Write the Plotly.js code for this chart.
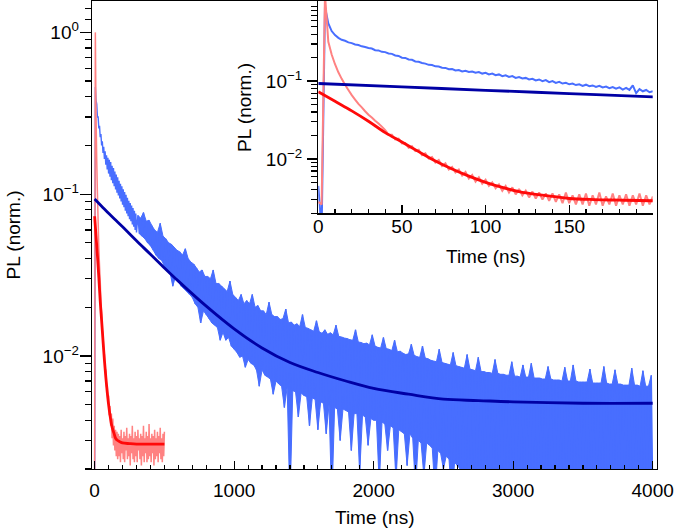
<!DOCTYPE html>
<html>
<head>
<meta charset="utf-8">
<script src="https://cdn.plot.ly/plotly-3.0.1.min.js"></script>
<style>html,body{margin:0;padding:0;background:#fff;}#chart{width:675px;height:530px;}</style>
</head>
<body>
<div id="chart"></div>
<script>
// ---------------- DATA ----------------
// Main panel, blue data: early part sampled every 5 ns from 0 ns, late part every 10 ns from 310 ns
const mainBlueEarlyStart = 0, mainBlueEarlyStep = 5;
const mainBlueEarly = [0.0018,0.46,0.38,0.36,0.3,0.3,0.255,0.265,0.225,0.235,0.2,0.212,0.18,0.196,0.165,0.184,0.152,0.174,0.142,0.168,
  0.134,0.163,0.128,0.158,0.122,0.15,0.117,0.145,0.112,0.138,0.107,0.132,0.102,0.127,0.098,0.121,0.094,0.116,0.09,0.112,
  0.086,0.107,0.083,0.103,0.079,0.099,0.076,0.095,0.073,0.091,0.07,0.088,0.068,0.085,0.065,0.082,0.063,0.079,0.06,0.076,0.058];
// late part: alternating local maxima / minima of the noisy trace
const mainBlueLateStart = 310, mainBlueLateStep = 10;
const mainBlueLate = [
  0.074,0.057,0.071,0.055,0.077,0.053,0.068,0.05,0.069,0.048,
  0.064,0.045,0.06,0.042,0.058,0.04,0.066,0.039,0.055,0.036,
  0.053,0.034,0.05,0.033,0.049,0.027,0.047,0.031,0.045,0.029,
  0.044,0.027,0.042,0.026,0.046,0.025,0.04,0.024,0.038,0.023,
  0.037,0.021,0.035,0.02,0.033,0.016,0.034,0.019,0.031,0.018,
  0.031,0.017,0.03,0.016,0.034,0.0155,0.028,0.015,0.028,0.0125,
  0.027,0.014,0.026,0.0125,0.025,0.013,0.029,0.0115,0.024,0.011,
  0.023,0.0105,0.022,0.0098,0.024,0.01,0.021,0.0085,0.022,0.0095,
  0.021,0.009,0.024,0.0088,0.02,0.0082,0.0205,0.0065,0.019,0.0082,
  0.019,0.0076,0.018,0.0074,0.0215,0.0072,0.018,0.0058,0.0175,0.007,
  0.0175,0.0067,0.0168,0.0065,0.017,0.0048,0.0195,0.0064,0.016,0.0012,
  0.0162,0.0061,0.0155,0.006,0.0158,0.0042,0.0152,0.0059,0.018,0.0057,
  0.015,0.0056,0.0148,0.0037,0.0145,0.0055,0.0142,0.0054,0.0165,0.0035,
  0.0141,0.0052,0.0138,0.0051,0.0145,0.0033,0.0136,0.005,0.0139,0.0012,
  0.0135,0.0048,0.0155,0.0047,0.0132,0.003,0.0131,0.0047,0.0129,0.0046,
  0.0128,0.0045,0.0126,0.0026,0.0125,0.0044,0.0145,0.0044,0.0122,0.0019,
  0.0121,0.0043,0.0119,0.0042,0.012,0.0028,0.0117,0.0041,0.0135,0.004,
  0.0115,0.004,0.0113,0.0016,0.0112,0.0039,0.013,0.0038,0.0111,0.0026,
  0.011,0.0037,0.0108,0.0036,0.0125,0.0017,0.0106,0.0035,0.0107,0.0034,
  0.0104,0.0033,0.0102,0.0021,0.0103,0.0033,0.0118,0.0031,0.0101,0.0015,
  0.0099,0.003,0.0098,0.0029,0.0115,0.0018,0.0097,0.0029,0.0096,0.0028,
  0.0094,0.0027,0.0093,0.0014,0.0092,0.0026,0.011,0.0025,0.0091,0.002,
  0.009,0.0024,0.0089,0.0023,0.0088,0.0013,0.0105,0.0022,0.0087,0.0021,
  0.0086,0.002,0.0085,0.0014,0.0084,0.0019,0.0102,0.0019,0.0083,0.0012,
  0.0082,0.0018,0.0081,0.0017,0.0098,0.0013,0.008,0.0018,0.008,0.0016,
  0.0079,0.0017,0.0079,0.0012,0.0078,0.0017,0.0095,0.0016,0.0078,0.0013,
  0.0077,0.0016,0.0077,0.0017,0.0076,0.0012,0.0076,0.0016,0.0092,0.0015,
  0.0075,0.0016,0.0075,0.0012,0.0074,0.0016,0.0088,0.0015,0.0074,0.0013,
  0.0074,0.0016,0.009,0.0015,0.0073,0.0012,0.0073,0.0016,0.0073,0.0015,
  0.0072,0.0013,0.0072,0.0016,0.0086,0.0015,0.0072,0.0012,0.0071,0.0016,
  0.0071,0.0015,0.0071,0.0013,0.007,0.0016,0.0085,0.0014,0.007,0.0012,
  0.007,0.0016,0.0088,0.0015,0.007,0.0013,0.0069,0.0016,0.0069,0.0014,
  0.0069,0.0012,0.0069,0.0016,0.0083,0.0015,0.0068,0.0013,0.0068,0.0016,
  0.0068,0.0014,0.0068,0.0012,0.0086,0.0016,0.0068,0.0015,0.0067,0.0013,
  0.0067,0.0016,0.0082,0.0014,0.0067,0.0012,0.0067,0.0016,0.0066,0.0015,
  0.0066,0.0013,0.0066,0.0016,0.0084,0.0014,0.0066,0.0012,0.0066,0.0016,
  0.0065,0.0015,0.0081,0.0013,0.0065,0.0016,0.0065,0.0012,0.0076,0.0015];

// Main panel, pink data: every 5 ns from 0 to 500 ns
const mainPinkStart = 0, mainPinkStep = 5;
const mainPink = [0.0019,1.0,0.3,0.16,0.1,0.068,0.046,0.036,0.029,0.021,0.0185,0.0145,0.0135,0.0108,0.0102,0.0084,0.0081,0.0064,0.0066,0.0052,
  0.0057,0.0043,0.0049,0.0037,0.0044,0.0031,0.0041,0.0028,0.0037,0.0026,0.0035,0.0024,0.0034,0.0023,0.0033,0.0024,0.0032,0.0022,0.0035,0.0025,
  0.0031,0.0023,0.0034,0.0022,0.0032,0.0026,0.0036,0.0023,0.0031,0.0024,0.0033,0.0021,0.0032,0.0025,0.0037,0.0023,0.0031,0.0022,0.0034,0.0024,
  0.0032,0.0022,0.0035,0.0026,0.0031,0.0023,0.0033,0.0021,0.0032,0.0024,0.0037,0.0022,0.0031,0.0025,0.0034,0.0022,0.0032,0.0023,0.0038,0.0024,
  0.0031,0.0022,0.0033,0.0025,0.0032,0.0021,0.0035,0.0023,0.0031,0.0024,0.0034,0.0022,0.0032,0.0025,0.0036,0.0023,0.0031,0.0022,0.0033,0.0024,0.0034];

// Inset, blue data: every 2 ns from 0 to 200 ns
const insetBlueStart = 0, insetBlueStep = 2;
const insetBlue = [0.0045,0.0012,0.9,0.55,0.44,0.39,0.36,0.34,0.33,0.315,0.308,0.296,0.291,0.28,0.274,0.266,0.262,0.25,0.248,0.238,
  0.236,0.227,0.224,0.214,0.211,0.2,0.199,0.19,0.188,0.179,0.177,0.171,0.168,0.162,0.161,0.155,0.154,0.149,0.148,0.142,
  0.143,0.137,0.139,0.133,0.136,0.131,0.133,0.128,0.131,0.125,0.128,0.122,0.125,0.119,0.122,0.116,0.119,0.113,0.116,0.11,
  0.113,0.108,0.11,0.105,0.107,0.102,0.105,0.1,0.103,0.097,0.1,0.095,0.098,0.093,0.095,0.091,0.093,0.089,0.091,0.087,
  0.09,0.086,0.088,0.084,0.087,0.083,0.085,0.081,0.084,0.08,0.083,0.078,0.082,0.077,0.088,0.07,0.079,0.074,0.077,0.072,0.074];

// Inset, pink data: every 2 ns from 0 to 200 ns
const insetPinkStart = 0, insetPinkStep = 2;
const insetPink = [0.0028,0.0026,1.3,0.32,0.22,0.165,0.13,0.107,0.09,0.077,0.066,0.058,0.051,0.046,0.041,0.037,0.034,0.031,0.0285,0.026,
  0.0235,0.0205,0.0205,0.0178,0.0182,0.0158,0.016,0.0139,0.0145,0.0126,0.0131,0.0112,0.0118,0.0101,0.0106,0.009,0.0097,0.0081,0.0088,0.0073,
  0.0079,0.0067,0.0073,0.0061,0.0068,0.0056,0.0062,0.0051,0.0058,0.0048,0.0054,0.0045,0.005,0.0042,0.0047,0.0039,0.0045,0.0037,0.0043,0.0035,
  0.0041,0.0034,0.0039,0.0032,0.0038,0.0031,0.0037,0.003,0.0036,0.0029,0.0036,0.0028,0.0035,0.0027,0.0037,0.0027,0.0034,0.0026,0.0035,0.0026,
  0.0036,0.0025,0.0034,0.0026,0.0037,0.0025,0.0033,0.0026,0.0036,0.0025,0.0034,0.0026,0.0035,0.0025,0.0034,0.0026,0.0036,0.0025,0.0034,0.0026,0.0033];

// Fit curves (read at these times)
const navyFitT = [0,50,100,150,200,300,400,500,600,800,1000,1200,1400,1600,1800,2000,2250,2500,2750,3000,3500,4000];
const navyFitY = [0.0932,0.0843,0.0762,0.0692,0.0628,0.0515,0.0425,0.035,0.029,0.0203,0.0147,0.0112,0.0091,0.0079,0.007,0.0063,0.0058,0.0054,0.0053,0.0052,0.0051,0.0051];
const redFitT = [0,10,20,30,40,50,60,70,80,90,100,110,120,130,140,150,165,180,200,250,300,400,500];
const redFitY = [0.073,0.055,0.0415,0.0305,0.0218,0.0165,0.0124,0.0094,0.0074,0.006,0.005,0.0043,0.0038,0.0035,0.0033,0.0031,0.003,0.00295,0.0029,0.00287,0.00285,0.00285,0.00285];

// Tick labels
const mainXTicks = [0,1000,2000,3000,4000];
const insetXTicks = [0,50,100,150];
const mainYTicks = [0.01,0.1,1];
const mainYTickText = ['10<sup>−2</sup>','10<sup>−1</sup>','10<sup>0</sup>'];
const insetYTicks = [0.01,0.1];
const insetYTickText = ['10<sup>−2</sup>','10<sup>−1</sup>'];
const mainYMinor = [0.002,0.003,0.004,0.005,0.006,0.007,0.008,0.009,0.02,0.03,0.04,0.05,0.06,0.07,0.08,0.09,0.2,0.3,0.4,0.5,0.6,0.7,0.8,0.9,1.2,1.4];
const insetYMinor = [0.002,0.003,0.004,0.005,0.006,0.007,0.008,0.009,0.02,0.03,0.04,0.05,0.06,0.07,0.08,0.09,0.2,0.3,0.4,0.5,0.6,0.7,0.8,0.9];

// ---------------- BUILD ----------------
function grid(start, step, n){ const a=[]; for(let i=0;i<n;i++) a.push(start+step*i); return a; }
const lateT = grid(mainBlueLateStart, mainBlueLateStep, mainBlueLate.length);
const mainBlueT = grid(mainBlueEarlyStart, mainBlueEarlyStep, mainBlueEarly.length).concat(lateT);
const mainBlueY = mainBlueEarly.concat(mainBlueLate);
// dense sampling of the original trace is drawn as the band between its maxima and minima
const upT=[], upY=[], loT=[], loY=[];
mainBlueLate.forEach((v,i)=>{ if(i%2===0){upT.push(lateT[i]); upY.push(v);} else {loT.push(lateT[i]); loY.push(v);} });

const C_BLUE = 'rgb(72,110,255)', C_NAVY = 'rgb(0,0,165)', C_PINK = 'rgb(255,130,130)', C_RED = 'rgb(255,10,10)';
const FONT = 'Liberation Sans, Arial, Helvetica, sans-serif';
const FS = 19;

const traces = [
  {x: upT, y: upY, xaxis:'x', yaxis:'y', mode:'lines', line:{color:C_BLUE, width:1, simplify:false}},
  {x: loT, y: loY, xaxis:'x', yaxis:'y', mode:'lines', line:{color:C_BLUE, width:1, simplify:false}, fill:'tonexty', fillcolor:C_BLUE},
  {x: mainBlueT, y: mainBlueY, xaxis:'x', yaxis:'y', mode:'lines', line:{color:C_BLUE, width:1.4, simplify:false}},
  {x: grid(mainPinkStart, mainPinkStep, mainPink.length), y: mainPink, xaxis:'x', yaxis:'y', mode:'lines', line:{color:C_PINK, width:1.5, simplify:false}},
  {x: navyFitT, y: navyFitY, xaxis:'x', yaxis:'y', mode:'lines', line:{color:C_NAVY, width:2.8, shape:'spline'}},
  {x: redFitT, y: redFitY, xaxis:'x', yaxis:'y', mode:'lines', line:{color:C_RED, width:2.8, shape:'spline'}},
  {x: grid(insetBlueStart, insetBlueStep, insetBlue.length), y: insetBlue, xaxis:'x2', yaxis:'y2', mode:'lines', line:{color:C_BLUE, width:2, simplify:false}},
  {x: grid(insetPinkStart, insetPinkStep, insetPink.length), y: insetPink, xaxis:'x2', yaxis:'y2', mode:'lines', line:{color:C_PINK, width:2, simplify:false}},
  {x: navyFitT, y: navyFitY, xaxis:'x2', yaxis:'y2', mode:'lines', line:{color:C_NAVY, width:2.8, shape:'spline'}},
  {x: redFitT, y: redFitY, xaxis:'x2', yaxis:'y2', mode:'lines', line:{color:C_RED, width:2.8, shape:'spline'}}
];

const tickFont = {family: FONT, size: FS, color: '#000'};
const titleFont = {family: FONT, size: FS, color: '#000'};
const layout = {
  width: 675, height: 530,
  margin: {l: 92, r: 18, t: 1, b: 61, pad: 0},
  paper_bgcolor: '#fff', plot_bgcolor: '#fff',
  showlegend: false,
  font: {family: FONT, size: FS, color: '#000'},
  xaxis: {
    domain: [0, 1], anchor: 'y', range: [-19, 4031],
    showline: true, linecolor: '#000', linewidth: 1.3, mirror: true,
    showgrid: false, zeroline: false,
    ticks: 'inside', ticklen: 8, tickwidth: 1.3, tickcolor: '#000',
    tickmode: 'array', tickvals: mainXTicks, ticktext: mainXTicks.map(String),
    tickfont: tickFont, ticklabelstandoff: 4,
    minor: {dtick: 100, tick0: 0, ticks: 'inside', ticklen: 4, tickwidth: 1.2, tickcolor: '#000', showgrid: false}
  },
  yaxis: {
    domain: [0, 1], anchor: 'x', type: 'log', range: [Math.log10(0.002), 0.194],
    showline: true, linecolor: '#000', linewidth: 1.3, mirror: true,
    showgrid: false, zeroline: false,
    ticks: 'outside', ticklen: 11, tickwidth: 1.3, tickcolor: '#000',
    tickmode: 'array', tickvals: mainYTicks, ticktext: mainYTickText,
    tickfont: tickFont, ticklabelstandoff: -3,
    minor: {tickvals: mainYMinor, ticks: 'outside', ticklen: 6, tickwidth: 1.2, tickcolor: '#000', showgrid: false}
  },
  xaxis2: {
    domain: [0.4005, 0.9924], anchor: 'y2', range: [0, 199.9],
    showline: true, linecolor: '#000', linewidth: 1.3, mirror: false,
    showgrid: false, zeroline: false,
    ticks: 'inside', ticklen: 8, tickwidth: 1.3, tickcolor: '#000',
    tickmode: 'array', tickvals: insetXTicks, ticktext: insetXTicks.map(String),
    tickfont: tickFont, ticklabelstandoff: -4,
    minor: {dtick: 10, tick0: 0, ticks: 'inside', ticklen: 4, tickwidth: 1.2, tickcolor: '#000', showgrid: false}
  },
  yaxis2: {
    domain: [0.5464, 1], anchor: 'x2', type: 'log', range: [Math.log10(0.002), 0.03],
    showline: true, linecolor: '#000', linewidth: 1.3, mirror: false,
    showgrid: false, zeroline: false,
    ticks: 'outside', ticklen: 10, tickwidth: 1.3, tickcolor: '#000',
    tickmode: 'array', tickvals: insetYTicks, ticktext: insetYTickText,
    tickfont: tickFont, ticklabelstandoff: 1,
    minor: {tickvals: insetYMinor, ticks: 'outside', ticklen: 6, tickwidth: 1.2, tickcolor: '#000', showgrid: false}
  },
  annotations: [
    {text: 'PL (norm.)', xref: 'paper', yref: 'paper', x: -0.1407, y: 0.5, xanchor: 'center', yanchor: 'middle', textangle: -90, showarrow: false, font: titleFont},
    {text: 'Time (ns)', xref: 'paper', yref: 'paper', x: 0.5, y: -0.1026, xanchor: 'center', yanchor: 'middle', showarrow: false, font: titleFont},
    {text: 'PL (norm.)', xref: 'paper', yref: 'paper', x: 0.269, y: 0.7735, xanchor: 'center', yanchor: 'middle', textangle: -90, showarrow: false, font: titleFont},
    {text: 'Time (ns)', xref: 'paper', yref: 'paper', x: 0.6965, y: 0.455, xanchor: 'center', yanchor: 'middle', showarrow: false, font: titleFont}
  ]
};

Plotly.newPlot('chart', traces, layout, {displayModeBar: false, staticPlot: true});
</script>
</body>
</html>
